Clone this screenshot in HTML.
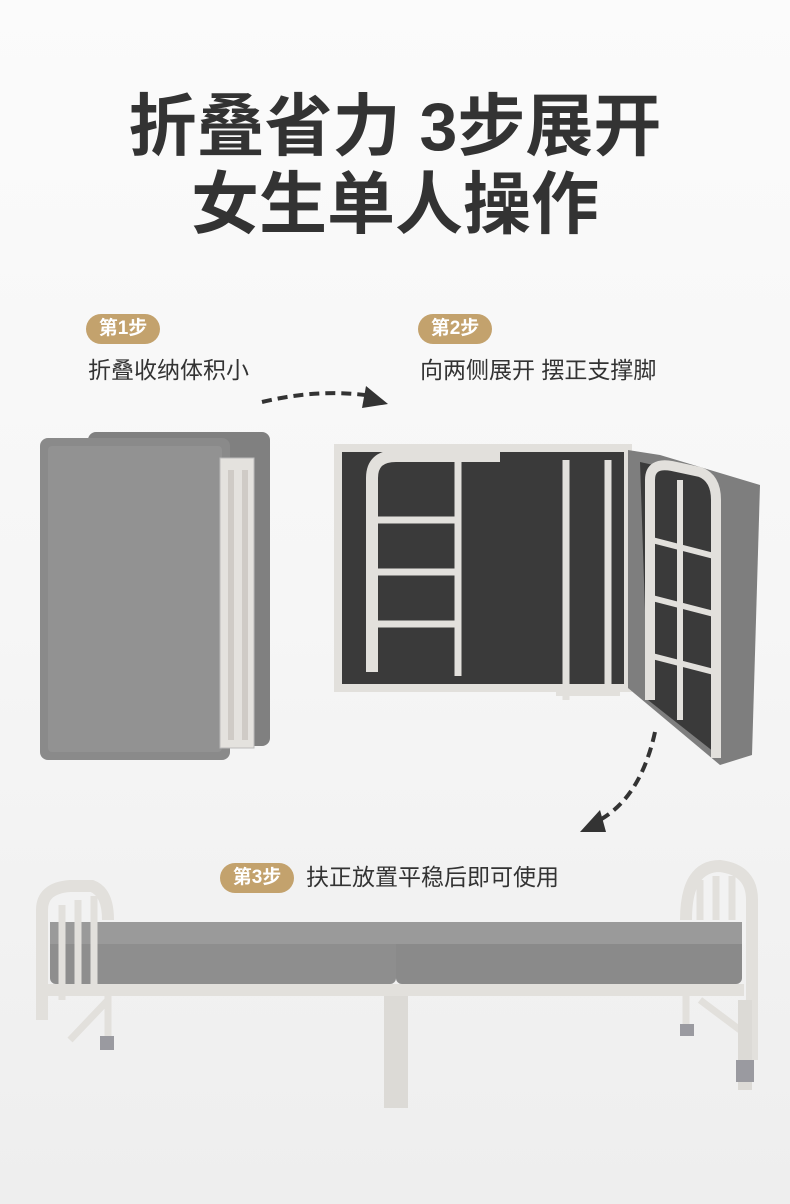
<!DOCTYPE html>
<html><head><meta charset="utf-8"><style>
body{margin:0;width:790px;height:1204px;overflow:hidden;background:linear-gradient(#fbfbfb 0%,#f6f6f6 50%,#eeeeee 100%);font-family:"Liberation Sans","Noto Sans CJK SC",sans-serif;position:relative}
.t{position:absolute;left:0;width:790px;text-align:center;font-weight:700;font-size:68px;color:#333;line-height:1}
.b{position:absolute;background:#c3a26d;color:#fff;font-weight:700;font-size:19px;border-radius:15px;height:30px;line-height:30px;text-align:center;width:74px}
.d{position:absolute;font-size:23px;color:#333;line-height:1}
svg{position:absolute;left:0;top:0}
</style></head><body>
<div class="t" style="top:93px">折叠省力 3步展开</div>
<div class="t" style="top:171px">女生单人操作</div>
<div class="b" style="left:86px;top:314px">第1步</div>
<div class="d" style="left:88px;top:359px">折叠收纳体积小</div>
<div class="b" style="left:418px;top:314px">第2步</div>
<div class="d" style="left:420px;top:359px">向两侧展开 摆正支撑脚</div>
<div class="b" style="left:220px;top:863px">第3步</div>
<div class="d" style="left:306px;top:866px">扶正放置平稳后即可使用</div>
<svg width="790" height="1204">
<g fill="none" stroke="#333" stroke-width="4" stroke-dasharray="10 6">
<path d="M262 402 Q320 388 372 396"/>
<path d="M655 732 Q640 800 596 822"/>
</g>
<polygon points="366,386 388,404 362,408" fill="#333"/>
<polygon points="600,810 580,832 606,832" fill="#333"/>
<rect x="88" y="432" width="182" height="314" rx="8" fill="#808080"/>
<rect x="40" y="438" width="190" height="322" rx="8" fill="#8a8a8a"/>
<rect x="48" y="446" width="174" height="306" rx="4" fill="#929292"/>
<rect x="220" y="458" width="34" height="290" fill="#e4e2de" stroke="#bbb"/>
<rect x="228" y="470" width="6" height="270" fill="#cfcbc6"/>
<rect x="242" y="470" width="6" height="270" fill="#cfcbc6"/>
<rect x="338" y="448" width="290" height="240" fill="#3a3a3a" stroke="#e2e0dc" stroke-width="8"/>
<path d="M372 672 V478 Q372 456 396 456 H500" fill="none" stroke="#e2e0dc" stroke-width="12"/>
<g stroke="#e2e0dc" stroke-width="7"><line x1="374" y1="520" x2="456" y2="520"/><line x1="374" y1="572" x2="456" y2="572"/><line x1="374" y1="624" x2="456" y2="624"/><line x1="458" y1="460" x2="458" y2="676"/><line x1="566" y1="460" x2="566" y2="700"/><line x1="608" y1="460" x2="608" y2="690"/></g>
<rect x="556" y="688" width="64" height="8" fill="#e2e0dc"/>
<polygon points="628,450 660,455 760,485 752,755 720,765 628,688" fill="#7e7e7e"/>
<polygon points="640,462 712,478 714,752 648,700" fill="#3a3a3a"/>
<path d="M650 700 V480 Q650 462 672 466 L700 472 Q716 478 716 500 V758" fill="none" stroke="#e2e0dc" stroke-width="10"/>
<g stroke="#e2e0dc" stroke-width="6"><line x1="652" y1="540" x2="714" y2="556"/><line x1="652" y1="598" x2="714" y2="614"/><line x1="652" y1="656" x2="714" y2="672"/><line x1="680" y1="480" x2="680" y2="720"/></g>
<rect x="50" y="922" width="346" height="62" rx="6" fill="#8e8e8e"/>
<rect x="396" y="922" width="346" height="62" rx="6" fill="#8a8a8a"/>
<rect x="50" y="922" width="692" height="22" fill="#9a9a9a"/>
<rect x="48" y="984" width="696" height="12" fill="#e2e0dc"/>
<path d="M42 1020 V910 Q42 888 70 886 L92 886 Q108 892 108 920" fill="none" stroke="#e2e0dc" stroke-width="12"/>
<path d="M686 920 Q686 866 720 866 Q752 870 752 900 V1060" fill="none" stroke="#e2e0dc" stroke-width="12"/>
<g stroke="#e2e0dc" stroke-width="7"><line x1="62" y1="905" x2="62" y2="1000"/><line x1="78" y1="900" x2="78" y2="990"/><line x1="94" y1="896" x2="94" y2="985"/><line x1="700" y1="880" x2="700" y2="920"/><line x1="716" y1="876" x2="716" y2="920"/><line x1="732" y1="876" x2="732" y2="920"/><line x1="108" y1="996" x2="108" y2="1040"/><line x1="686" y1="996" x2="686" y2="1025"/><line x1="70" y1="1040" x2="108" y2="1000"/><line x1="700" y1="1000" x2="740" y2="1030"/></g>
<rect x="384" y="996" width="24" height="112" fill="#dcdad6"/>
<rect x="738" y="1000" width="14" height="90" fill="#dcdad6"/>
<rect x="736" y="1060" width="18" height="22" fill="#9a9aa0"/>
<rect x="100" y="1036" width="14" height="14" fill="#9a9aa0"/>
<rect x="680" y="1024" width="14" height="12" fill="#9a9aa0"/>
</svg>
</body></html>
